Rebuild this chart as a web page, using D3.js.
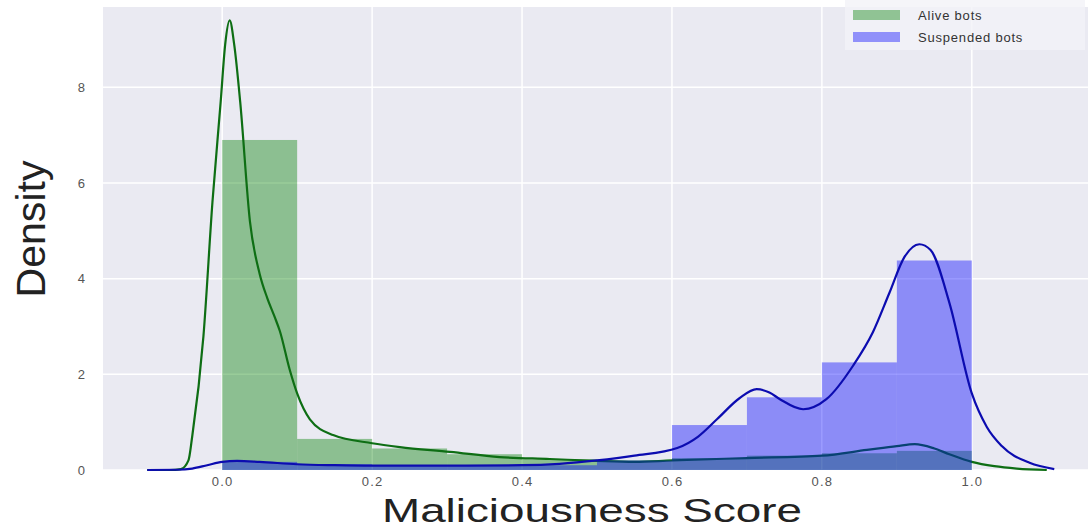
<!DOCTYPE html>
<html>
<head>
<meta charset="utf-8">
<script src="https://cdn.jsdelivr.net/npm/d3@7"></script>
<style>
  body { margin: 0; background: #fff; }
  svg { display: block; font-family: "Liberation Sans", Arial, sans-serif; }
</style>
</head>
<body>
<svg width="1088" height="529"></svg>
<script>
// histogram bins (width 0.1, from 0 to 1), density heights
var binEdges = [0, 0.1, 0.2, 0.3, 0.4, 0.5, 0.6, 0.7, 0.8, 0.9, 1.0];
var aliveHist = [6.9, 0.65, 0.45, 0.33, 0.22, 0.2, 0.25, 0.3, 0.35, 0.4];
var suspHist = [0.17, 0.12, 0.1, 0.09, 0.1, 0.2, 0.94, 1.52, 2.25, 4.38];

// kde curves
var aliveKdeX = [-0.1, -0.07, -0.055, -0.045, -0.04, -0.025, -0.013, -0.002, 0.004, 0.01, 0.016, 0.024, 0.037, 0.05, 0.06, 0.07, 0.077, 0.09, 0.1, 0.117, 0.148, 0.2, 0.237, 0.304, 0.37, 0.437, 0.5, 0.55, 0.6, 0.7, 0.8, 0.86, 0.9, 0.924, 0.95, 0.97, 1.0, 1.03, 1.06, 1.1];
var aliveKdeY = [0, 0, 0.02, 0.2, 0.7, 2.8, 5.6, 7.7, 8.9, 9.4, 8.9, 7.7, 5.2, 4.1, 3.6, 3.2, 2.9, 2.1, 1.6, 1.06, 0.73, 0.56, 0.48, 0.38, 0.27, 0.23, 0.19, 0.17, 0.2, 0.25, 0.3, 0.42, 0.5, 0.54, 0.45, 0.33, 0.17, 0.08, 0.03, 0];
var suspKdeX = [-0.1, -0.06, -0.04, -0.02, 0.0, 0.02, 0.05, 0.1, 0.15, 0.2, 0.3, 0.4, 0.45, 0.5, 0.55, 0.607, 0.635, 0.66, 0.69, 0.713, 0.73, 0.744, 0.775, 0.806, 0.842, 0.868, 0.89, 0.91, 0.93, 0.945, 0.97, 1.0, 1.02, 1.04, 1.077, 1.11];
var suspKdeY = [0, 0.005, 0.03, 0.1, 0.17, 0.19, 0.17, 0.12, 0.1, 0.09, 0.09, 0.1, 0.13, 0.2, 0.3, 0.46, 0.7, 1.06, 1.5, 1.69, 1.62, 1.48, 1.27, 1.48, 2.19, 2.88, 3.7, 4.45, 4.72, 4.6, 3.5, 1.6, 0.9, 0.5, 0.15, 0.02];

var xTicks = [0, 0.2, 0.4, 0.6, 0.8, 1.0];
var yTicks = [0, 2, 4, 6, 8];
var legendLabels = ["Alive bots", "Suspended bots"];

(function() {
var svg = d3.select("svg");
var mLeft = 103, mRight = 1100, mTop = 7, mBottom = 470;

var x = d3.scaleLinear().domain([-0.159, 1.171]).range([mLeft, mRight]);
var y = d3.scaleLinear().domain([0, 9.68]).range([mBottom, mTop]);

var plot = svg.append("g");
plot.append("rect")
  .attr("x", mLeft).attr("y", mTop)
  .attr("width", mRight - mLeft).attr("height", mBottom - mTop)
  .attr("fill", "#eaeaf2");

// grid
plot.append("g").selectAll("line").data(xTicks).enter().append("line")
  .attr("x1", function(d) { return x(d); }).attr("x2", function(d) { return x(d); })
  .attr("y1", mTop).attr("y2", mBottom)
  .attr("stroke", "#fff").attr("stroke-width", 1.5);
plot.append("g").selectAll("line").data(yTicks).enter().append("line")
  .attr("x1", mLeft).attr("x2", mRight)
  .attr("y1", function(d) { return y(d); }).attr("y2", function(d) { return y(d); })
  .attr("stroke", "#fff").attr("stroke-width", 1.5);

function drawHist(vals, color) {
  plot.append("g").selectAll("rect")
    .data(vals).enter().append("rect")
    .attr("x", function(d, i) { return x(binEdges[i]); })
    .attr("width", function(d, i) { return x(binEdges[i + 1]) - x(binEdges[i]); })
    .attr("y", function(d) { return y(d); })
    .attr("height", function(d) { return y(0) - y(d); })
    .attr("fill", color)
    .attr("fill-opacity", 0.4);
}

function drawKde(xs, ys, color) {
  var pts = xs.map(function(v, i) { return [v, ys[i]]; });
  var line = d3.line()
    .x(function(d) { return x(d[0]); })
    .y(function(d) { return y(d[1]); })
    .curve(d3.curveMonotoneX);
  plot.append("path")
    .datum(pts)
    .attr("d", line)
    .attr("fill", "none")
    .attr("stroke", color)
    .attr("stroke-width", 2.2);
}

drawHist(aliveHist, "#008000");
drawKde(aliveKdeX, aliveKdeY, "#0e6e14");
drawHist(suspHist, "#0000ff");
drawKde(suspKdeX, suspKdeY, "#0c0cb0");

// axes
var xAxis = d3.axisBottom(x).tickValues(xTicks).tickSize(0).tickPadding(7)
  .tickFormat(d3.format(".1f"));
var gx = svg.append("g").attr("transform", "translate(0," + mBottom + ")").call(xAxis);
gx.select(".domain").remove();
gx.selectAll("text").attr("font-size", 13).attr("fill", "#555")
  .attr("letter-spacing", 1.2).attr("font-family", "Liberation Sans, Arial, sans-serif");

var yAxis = d3.axisLeft(y).tickValues(yTicks).tickSize(0).tickPadding(18);
var gy = svg.append("g").attr("transform", "translate(" + mLeft + ",0)").call(yAxis);
gy.select(".domain").remove();
gy.selectAll("text").attr("font-size", 13).attr("fill", "#555")
  .attr("font-family", "Liberation Sans, Arial, sans-serif");

// axis titles
svg.append("text")
  .attr("x", 592).attr("y", 522)
  .attr("text-anchor", "middle")
  .attr("font-size", 33)
  .attr("fill", "#222")
  .attr("textLength", 420).attr("lengthAdjust", "spacingAndGlyphs")
  .text("Maliciousness Score");

svg.append("text")
  .attr("transform", "translate(45,229) rotate(-90)")
  .attr("text-anchor", "middle")
  .attr("font-size", 40)
  .attr("fill", "#222")
  .attr("textLength", 137).attr("lengthAdjust", "spacingAndGlyphs")
  .text("Density");

// legend
var leg = svg.append("g");
leg.append("rect")
  .attr("x", 845).attr("y", -4).attr("width", 240).attr("height", 54)
  .attr("fill", "#f3f3f8").attr("fill-opacity", 0.8);
var legColors = ["#008000", "#0000ff"];
legendLabels.forEach(function(lab, i) {
  var ly = 15 + i * 22;
  leg.append("rect")
    .attr("x", 853).attr("y", ly - 5).attr("width", 47).attr("height", 10)
    .attr("fill", legColors[i]).attr("fill-opacity", 0.4);
  leg.append("text")
    .attr("x", 918).attr("y", ly + 5)
    .attr("font-size", 13).attr("fill", "#333")
    .attr("letter-spacing", 0.8)
    .text(lab);
});
})();
</script>
</body>
</html>
